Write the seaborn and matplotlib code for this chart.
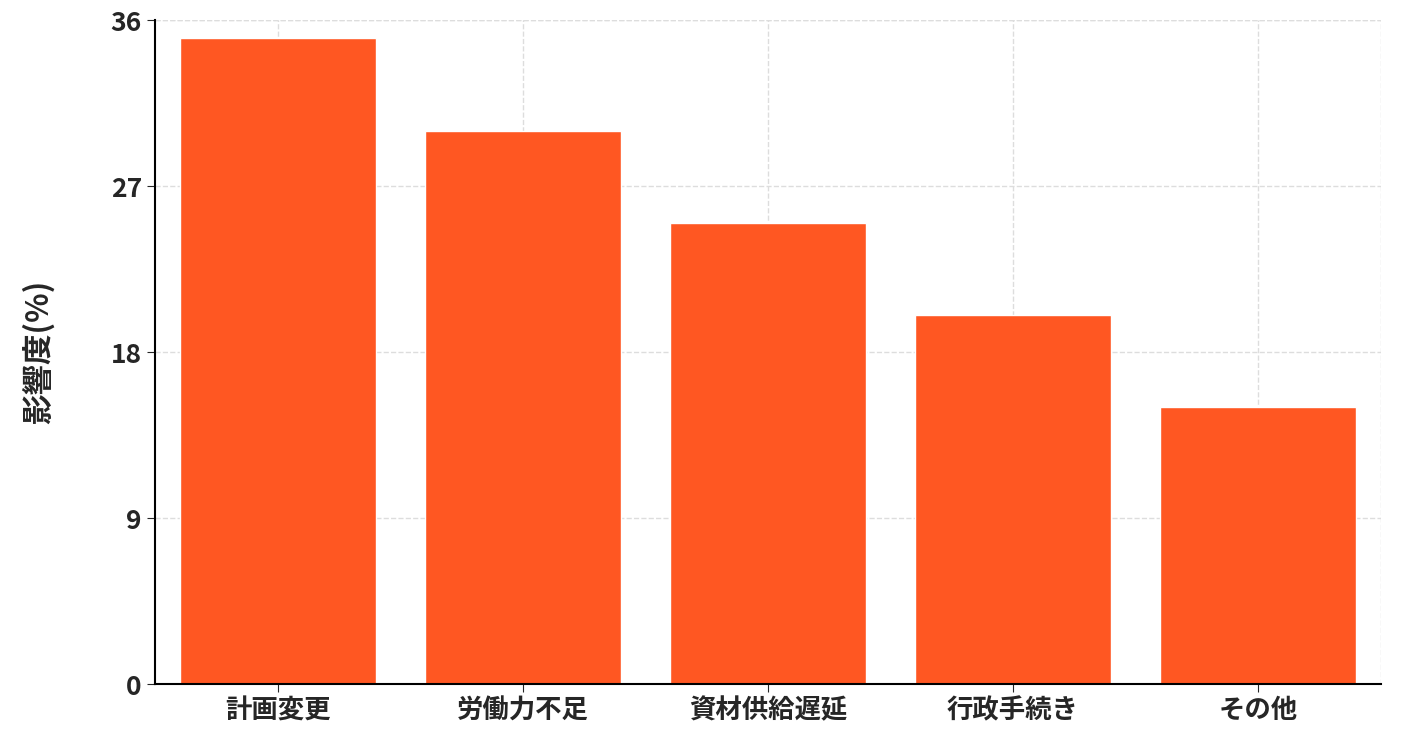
import seaborn as sns
import matplotlib.pyplot as plt
import pandas as pd

categories = ['計画変更', '労働力不足', '資材供給遅延', '行政手続き', 'その他']
values = [35, 30, 25, 20, 15]
yticks = [0, 9, 18, 27, 36]

df = pd.DataFrame({'cat': categories, 'val': values})

sns.set_style('white')
plt.rcParams['font.family'] = ['Noto Sans CJK JP', 'DejaVu Sans']

fig, ax = plt.subplots(figsize=(14.03, 7.42), dpi=100)
fig.subplots_adjust(left=0.1105, right=0.984, top=0.973, bottom=0.078)
sns.barplot(data=df, x='cat', y='val', color='#FF5722', saturation=1, width=0.8, ax=ax, zorder=2)

ax.set_ylim(0, 36)
ax.set_xlim(-0.5, 4.5)
ax.set_yticks(yticks)
ax.set_xlabel('')
ax.set_ylabel('影響度(%)', fontsize=22, fontweight='bold', labelpad=40)
ax.tick_params(axis='both', labelsize=19, length=6, direction='out', bottom=True, left=True)
for lab in ax.get_xticklabels() + ax.get_yticklabels():
    lab.set_fontweight('bold')
ax.grid(True, linestyle='--', color='#dddddd', linewidth=1, zorder=0)
for s in ['top', 'right']:
    ax.spines[s].set_visible(False)
ax.axvline(4.5, linestyle='--', color='#dddddd', linewidth=1, zorder=0)
ax.axhline(36, linestyle='--', color='#dddddd', linewidth=1, zorder=0)
for s in ['left', 'bottom']:
    ax.spines[s].set_color('black')
    ax.spines[s].set_linewidth(1.5)

fig.savefig('out.png', dpi=100)
